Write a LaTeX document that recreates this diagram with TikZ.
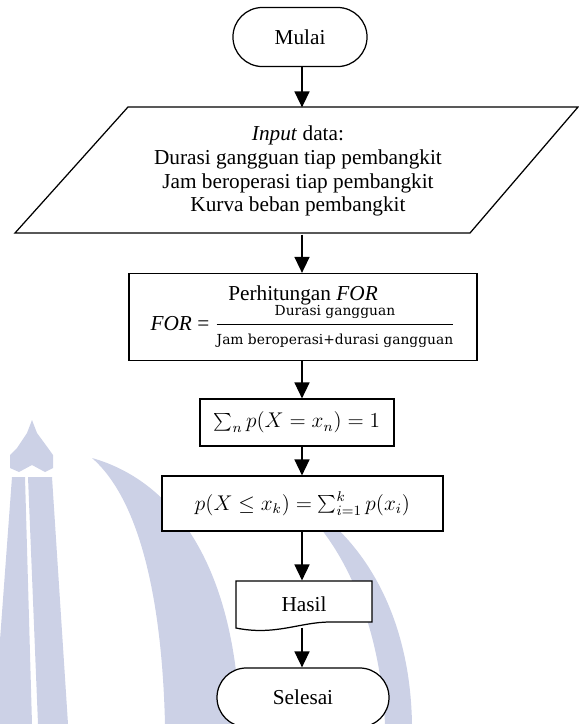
\documentclass[tikz,border=0pt]{standalone}
\usepackage{fontspec}
\setmainfont{Liberation Serif}
\newfontfamily\cambria{DejaVu Serif}
\usetikzlibrary{arrows.meta}
\definecolor{wm}{RGB}{204,209,230}
\newcommand\pu{0.564pt}
\newcommand\fr[1]{\hbox{\cambria\fontsize{7.8}{9.5}\selectfont #1}}

\begin{document}
\begin{tikzpicture}[x=\pu,y=-\pu,>={Triangle[length=9pt,width=8.5pt]},line width=0.7pt,
    every node/.style={font=\fontsize{12}{13.5}\selectfont,inner sep=0pt},
    term/.style={draw,fill=white,rounded corners=16.6pt,minimum height=33.3pt},
    box/.style={draw,fill=white}]
\useasboundingbox (0,0) rectangle (579,724);

% logo di belakang
\fill[wm] (32,420) -- (37,433) -- (48,448) -- (53,455) -- (53,468) -- (45,472) -- (32,465) -- (19,472) -- (10,468) -- (10,455) -- (17,448) -- (27,433) -- cycle;
\fill[wm] (12,477) -- (25,477) -- (32,724) -- (0,724) -- (0,640) -- cycle;
\fill[wm] (28,477) -- (52,477) -- (68,724) -- (38,724) -- cycle;
\fill[wm] (92,458) .. controls (170,480) and (235,560) .. (240,724) -- (165,724) .. controls (162,600) and (140,500) .. (92,458) -- cycle;
\fill[wm] (280,490) .. controls (350,520) and (410,600) .. (412,724) -- (385,724) .. controls (380,620) and (340,530) .. (280,490) -- cycle;

\coordinate (col) at (302,0);

\node[term,minimum width=75.6pt] (mulai) at (300,37) {Mulai};

\draw[fill=white] (128,107) -- (578,107) -- (470,233) -- (15,233) -- cycle;
\node[align=center,minimum height=71.1pt] (inp) at (298,171)
    {\textit{Input} data:\\Durasi gangguan tiap pembangkit\\Jam beroperasi tiap pembangkit\\Kurva beban pembangkit};

\node[box,align=center,minimum width=196.3pt,minimum height=49.1pt] (perh) at (303,317)
    {Perhitungan \textit{FOR}\\[-1pt]
     \textit{FOR} = $\displaystyle\frac{\fr{Durasi gangguan}}{\fr{Jam beroperasi+durasi gangguan}}$};

\node[box,minimum width=109.4pt,minimum height=26.5pt] (sum) at (297,422.5)
    {$\sum_n p(X=x_n)=1$};

\node[box,minimum width=158.5pt,minimum height=31pt] (prob) at (302.5,503.5)
    {$p(X\le x_k)=\sum_{i=1}^{k}p(x_i)$};

\draw[fill=white] (236,581) -- (372,581) -- (372,622) -- (330,622) .. controls (300,622) and (275,636) .. (236,628) -- cycle;
\node[minimum width=76.7pt,minimum height=25.9pt] (hasil) at (304,604) {Hasil};

\node[term,minimum width=97pt] (selesai) at (303,697.5) {Selesai};

\foreach \a/\b in {mulai/inp,inp/perh,perh/sum,sum/prob,prob/hasil,hasil/selesai}
{
    \draw[->] (\a.south -| col) -- (\b.north -| col);
}

\end{tikzpicture}
\end{document}
